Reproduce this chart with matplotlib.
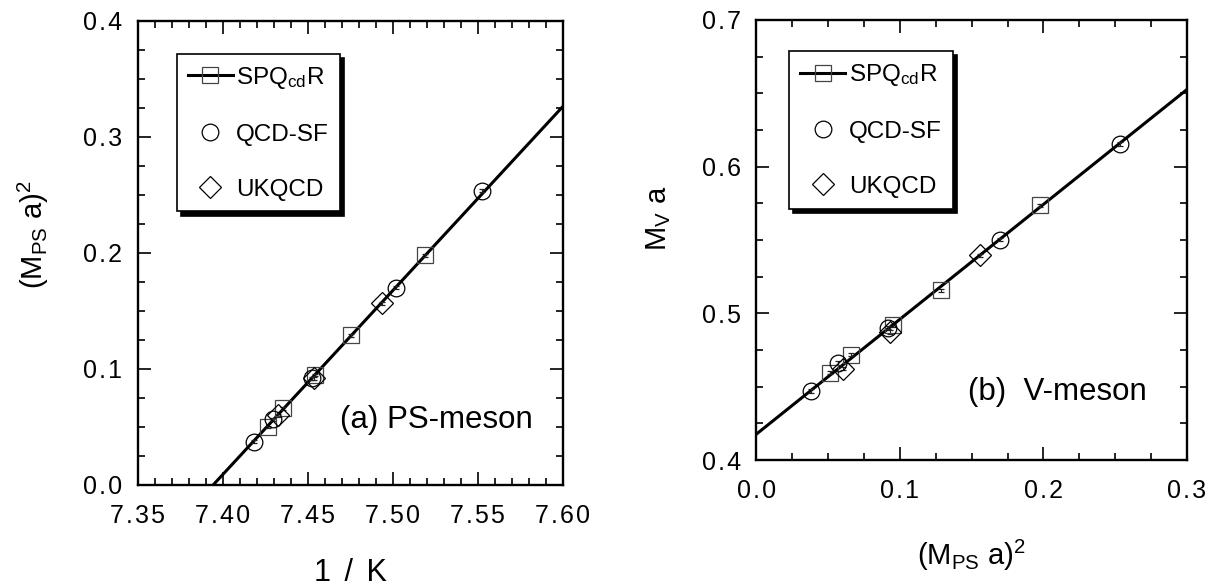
import numpy as np
import matplotlib
matplotlib.use("Agg")
import matplotlib.pyplot as plt
from matplotlib.lines import Line2D

plt.rcParams['font.family'] = ['Liberation Sans', 'DejaVu Sans']
plt.rcParams['mathtext.fontset'] = 'custom'
plt.rcParams['mathtext.rm'] = 'Liberation Sans'
plt.rcParams['mathtext.it'] = 'Liberation Sans'

# ---------------- data: panel (a) PS-meson ----------------
a_spq_x = [7.4268, 7.4357, 7.4543, 7.4755, 7.5190]
a_spq_y = [0.050, 0.066, 0.0948, 0.129, 0.198]
a_qcdsf_x = [7.4186, 7.4298, 7.4527, 7.5018, 7.5527]
a_qcdsf_y = [0.0373, 0.0566, 0.092, 0.170, 0.2537]
a_ukqcd_x = [7.4327, 7.4535, 7.4935]
a_ukqcd_y = [0.060, 0.092, 0.1566]
a_fit_slope = 1.586
a_fit_x0 = 7.3944          # x where fit crosses zero
a_xticklabels = ['7.35', '7.40', '7.45', '7.50', '7.55', '7.60']
a_yticklabels = ['0.0', '0.1', '0.2', '0.3', '0.4']

# ---------------- data: panel (b) V-meson ----------------
b_spq_x = [0.0512, 0.0659, 0.0949, 0.1286, 0.1976]
b_spq_y = [0.4595, 0.4718, 0.4918, 0.5157, 0.5736]
b_qcdsf_x = [0.0378, 0.0570, 0.0914, 0.1697, 0.2533]
b_qcdsf_y = [0.447, 0.4661, 0.4902, 0.5502, 0.6156]
b_ukqcd_x = [0.0605, 0.0930, 0.1557]
b_ukqcd_y = [0.4623, 0.4873, 0.5395]
b_fit_intercept = 0.4177
b_fit_slope = 0.783
b_xticklabels = ['0.0', '0.1', '0.2', '0.3']
b_yticklabels = ['0.4', '0.5', '0.6', '0.7']

err = 0.0012

def spaced(s):
    return '\u200a'.join(s)

fig = plt.figure(figsize=(12.16, 5.86), dpi=100)
axA = fig.add_axes([0.1132, 0.1724, 0.3495, 0.7918])
axB = fig.add_axes([0.6221, 0.2150, 0.3540, 0.7509])

mk = dict(linestyle='none', markerfacecolor='none', markeredgewidth=0.9,
          markersize=12, ecolor='#222222', elinewidth=0.8, capsize=2.5, capthick=0.8)

def style(ax):
    for s in ax.spines.values():
        s.set_linewidth(1.7)
    ax.tick_params(which='both', direction='in', top=True, right=True, width=1.2)
    ax.tick_params(which='major', length=9.5, labelsize=18)
    ax.tick_params(which='minor', length=5)
    ax.tick_params(axis='x', pad=14)
    ax.tick_params(axis='y', pad=11)

def legend(ax, anchor):
    h = [Line2D([], [], color='black', lw=2.2, marker='s', markersize=12,
                markerfacecolor='none', markeredgecolor='#444444', markeredgewidth=0.9),
         Line2D([], [], linestyle='none', marker='o', markersize=12,
                markerfacecolor='none', markeredgecolor='black', markeredgewidth=0.9),
         Line2D([], [], linestyle='none', marker='D', markersize=11,
                markerfacecolor='none', markeredgecolor='black', markeredgewidth=0.9)]
    lab = [r'SPQ$_{\rm cd}$R', 'QCD-SF', 'UKQCD']
    leg = ax.legend(h, lab, loc='upper left', bbox_to_anchor=anchor, fontsize=17.5,
                    frameon=True, fancybox=False, edgecolor='black',
                    shadow={'color': 'black', 'alpha': 1.0, 'ox': 3, 'oy': -3},
                    handlelength=1.85, handletextpad=0.15, labelspacing=1.35,
                    borderpad=0.45, borderaxespad=0.0)
    leg.get_frame().set_linewidth(1.2)
    return leg

# ---- panel (a)
xa = np.array([7.35, 7.60])
axA.plot(xa, a_fit_slope * (xa - a_fit_x0), color='black', lw=2.2, zorder=1)
axA.errorbar(a_spq_x, a_spq_y, yerr=err, marker='s', markeredgecolor='#444444', **mk)
axA.errorbar(a_qcdsf_x, a_qcdsf_y, yerr=err, marker='o', markeredgecolor='black', **mk)
mkd = dict(mk); mkd['markersize'] = 11
axA.errorbar(a_ukqcd_x, a_ukqcd_y, yerr=err, marker='D', markeredgecolor='black', **mkd)
axA.set_xlim(7.35, 7.60)
axA.set_ylim(0.0, 0.4)
axA.set_xticks(np.arange(7.35, 7.601, 0.05))
axA.set_xticks(np.arange(7.35, 7.601, 0.01), minor=True)
axA.set_yticks(np.arange(0.0, 0.401, 0.1))
axA.set_yticks(np.arange(0.0, 0.401, 0.025), minor=True)
axA.set_xticklabels([spaced(t) for t in a_xticklabels])
axA.set_yticklabels([spaced(t) for t in a_yticklabels])
style(axA)
axA.set_xlabel(spaced('1 / K'), fontsize=22)
axA.xaxis.set_label_coords(0.5, -0.158)
axA.set_ylabel(r'(M$_{\rm PS}$ a)$^2$', fontsize=21)
axA.yaxis.set_label_coords(-0.205, 0.54)
axA.text(0.93, 0.14, '(a) PS-meson', transform=axA.transAxes, fontsize=22.5,
         ha='right', va='center')
legend(axA, (0.092, 0.929))

# ---- panel (b)
xb = np.array([0.0, 0.3])
axB.plot(xb, b_fit_intercept + b_fit_slope * xb, color='black', lw=2.2, zorder=1)
axB.errorbar(b_spq_x, b_spq_y, yerr=err, marker='s', markeredgecolor='#444444', **mk)
axB.errorbar(b_qcdsf_x, b_qcdsf_y, yerr=err, marker='o', markeredgecolor='black', **mk)
axB.errorbar(b_ukqcd_x, b_ukqcd_y, yerr=err, marker='D', markeredgecolor='black', **mkd)
axB.set_xlim(0.0, 0.3)
axB.set_ylim(0.4, 0.7)
axB.set_xticks(np.arange(0.0, 0.301, 0.1))
axB.set_xticks(np.arange(0.0, 0.301, 0.025), minor=True)
axB.set_yticks(np.arange(0.4, 0.701, 0.1))
axB.set_yticks(np.arange(0.4, 0.701, 0.025), minor=True)
axB.set_xticklabels([spaced(t) for t in b_xticklabels])
axB.set_yticklabels([spaced(t) for t in b_yticklabels])
style(axB)
axB.set_xlabel(r'(M$_{\rm PS}$ a)$^2$', fontsize=21)
axB.xaxis.set_label_coords(0.5, -0.176)
axB.set_ylabel(r'M$_{\rm V}$ a', fontsize=21)
axB.yaxis.set_label_coords(-0.195, 0.55)
axB.text(0.907, 0.154, '(b)  V-meson', transform=axB.transAxes, fontsize=22.5,
         ha='right', va='center')
legend(axB, (0.076, 0.929))

fig.savefig('out.png', dpi=100)
